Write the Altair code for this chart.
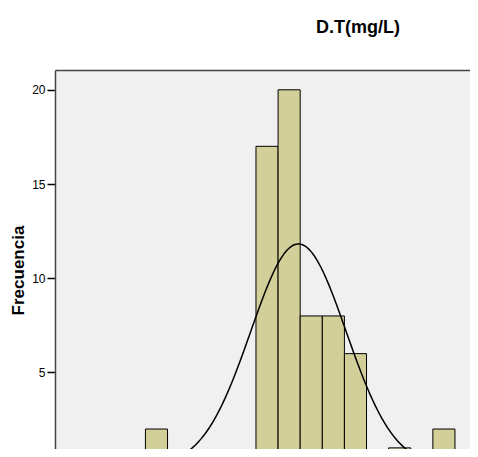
import altair as alt
import numpy as np
import pandas as pd

# Histogram bins (in bin-width units; x axis is cropped out of the reference)
bin_start = [0, 1, 2, 3, 4, 5, 6, 7, 8, 9, 10, 11, 12, 13]
counts = [2, 0, 0, 0, 0, 17, 20, 8, 8, 6, 0, 1, 0, 2]

# Fitted normal curve parameters
N_TOTAL = sum(counts)
CURVE_MEAN = 6.92
CURVE_SD = 2.16

X_MIN, X_MAX = -4.09, 14.68
Y_MIN, Y_MAX = 0.94, 21.05
y_ticks = [5, 10, 15, 20]

bars_df = pd.DataFrame({
    "start": bin_start,
    "end": [b + 1 for b in bin_start],
    "count": counts,
})

xs = np.linspace(X_MIN, X_MAX, 400)
ys = N_TOTAL / (CURVE_SD * np.sqrt(2 * np.pi)) * np.exp(-((xs - CURVE_MEAN) ** 2) / (2 * CURVE_SD ** 2))
curve_df = pd.DataFrame({"x": xs, "y": ys})

FONT = "Liberation Sans"

xscale = alt.Scale(domain=[X_MIN, X_MAX], nice=False, zero=False)
yscale = alt.Scale(domain=[Y_MIN, Y_MAX], nice=False, zero=False)

x_axis = alt.Axis(orient="top", labels=False, ticks=False, grid=False,
                  title=None, domainColor="#444444", domainWidth=1.5)
y_axis = alt.Axis(values=y_ticks, grid=False, title="Frecuencia",
                  titleFont=FONT, titleFontSize=17, titleFontWeight="bold",
                  titleColor="#000000", titleX=-37, titleY=200,
                  titleBaseline="middle", titleAngle=270,
                  labelFont=FONT, labelFontSize=12, labelColor="#000000",
                  labelPadding=2, tickSize=8, tickColor="#000000",
                  tickWidth=1.5, domainColor="#444444", domainWidth=1.5)

bars = alt.Chart(bars_df).mark_bar(
    fill="#d3cf98", stroke="#000000", strokeWidth=1, clip=True
).encode(
    x=alt.X("start:Q", scale=xscale, axis=x_axis),
    x2="end:Q",
    y=alt.Y("count:Q", scale=yscale, axis=y_axis),
    y2=alt.datum(0),
)

curve = alt.Chart(curve_df).mark_line(
    color="#000000", strokeWidth=1.5, clip=True
).encode(
    x=alt.X("x:Q", scale=xscale, axis=x_axis),
    y=alt.Y("y:Q", scale=yscale, axis=y_axis),
)

chart = alt.layer(bars, curve).properties(
    width=415,
    height=379,
    background="#ffffff",
    title=alt.TitleParams("D.T(mg/L)", font=FONT, fontSize=18, fontWeight="bold",
                          color="#000000", anchor="start", frame="group", dx=261,
                          baseline="alphabetic", offset=19),
    autosize=alt.AutoSizeParams(type="none"),
    padding={"left": 47, "top": 62, "right": 0, "bottom": 0},
).configure_view(
    fill="#f0f0f0", stroke=None
)

chart.save("out.html", embed_options={"renderer": "svg", "actions": False})
